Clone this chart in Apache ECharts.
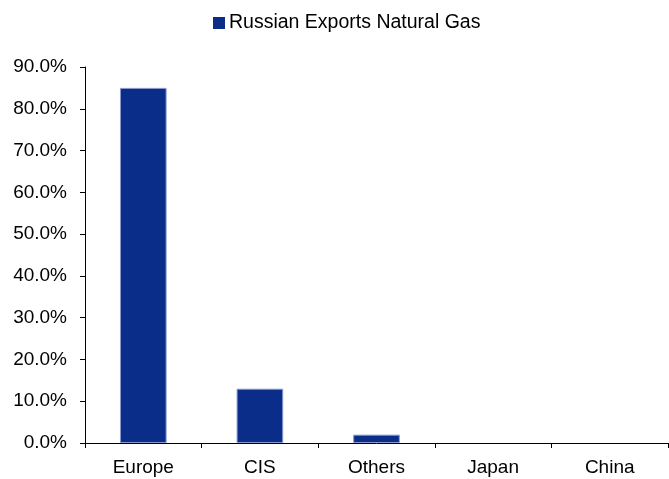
<!DOCTYPE html>
<html>
<head>
<meta charset="utf-8">
<script src="https://cdn.jsdelivr.net/npm/echarts@6/dist/echarts.min.js"></script>
<style>
  html, body { margin: 0; padding: 0; background: #fff; }
  #chart { width: 669px; height: 479px; }
</style>
</head>
<body>
<div id="chart"></div>
<script>
const categories = ['Europe', 'CIS', 'Others', 'Japan', 'China']
const exportShare = [85, 13, 2, 0, 0]
const seriesName = 'Russian Exports Natural Gas'

const font = 'Liberation Sans, Arial, sans-serif'
const chart = echarts.init(document.getElementById('chart'))

// zero bars would otherwise show a thin border line
const barData = exportShare.map(v => v > 0 ? v : { value: v, itemStyle: { borderWidth: 0 } })

chart.setOption({
  animation: false,
  legend: {
    top: 8,
    left: 208,
    itemWidth: 12,
    itemHeight: 12,
    itemGap: 10,
    textStyle: { fontFamily: font, fontSize: 19.5, color: '#000', padding: [0, 0, 0, -1] },
    itemStyle: { borderWidth: 0 },
    data: [{ name: seriesName, icon: 'rect' }]
  },
  grid: { left: 85, right: 1, top: 67, bottom: 36, containLabel: false },
  xAxis: {
    type: 'category',
    data: categories,
    axisLine: { show: true, lineStyle: { color: '#000', width: 1 } },
    axisTick: { show: true, length: 5, alignWithLabel: false, lineStyle: { color: '#000' } },
    axisLabel: { fontFamily: font, fontSize: 19, color: '#000', margin: 15 }
  },
  yAxis: {
    type: 'value',
    min: 0,
    max: 90,
    interval: 10,
    axisLine: { show: true, lineStyle: { color: '#000', width: 1 } },
    axisTick: { show: true, length: 5, lineStyle: { color: '#000' } },
    splitLine: { show: false },
    axisLabel: {
      fontFamily: font,
      fontSize: 19,
      color: '#000',
      margin: 18,
      formatter: v => v.toFixed(1) + '%'
    }
  },
  series: [{
    name: seriesName,
    type: 'bar',
    data: barData,
    barWidth: '40%',
    itemStyle: { color: '#0a2d8a', borderColor: '#8a9ad0', borderWidth: 1 }
  }]
})
</script>
</body>
</html>
